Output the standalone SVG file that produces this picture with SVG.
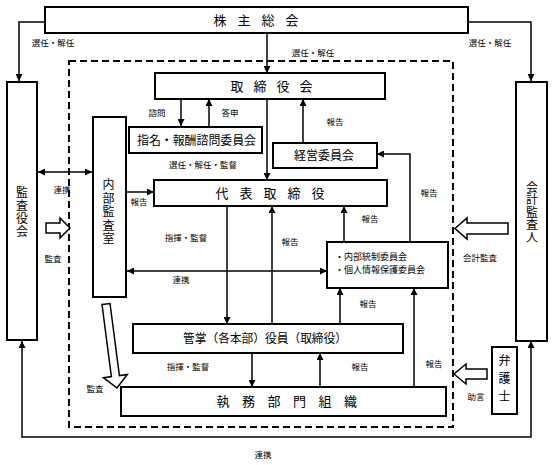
<svg xmlns="http://www.w3.org/2000/svg" width="553" height="465" viewBox="0 0 553 465">
<style>
.box{fill:#fff;stroke:#000;stroke-width:2}
.ln{fill:none;stroke:#000;stroke-width:1.5}
.hol{fill:#fff;stroke:#000;stroke-width:1.5;stroke-linejoin:miter}
.dash{fill:none;stroke:#000;stroke-width:2;stroke-dasharray:7 4}
text{font-family:'Noto Sans CJK JP','Noto Sans CJK SC',sans-serif;fill:#000}
.ttl{font-size:13px;text-anchor:middle}
.nm{font-size:12px;text-anchor:middle}
.vt{font-size:12px;text-anchor:middle;writing-mode:vertical-rl}
.lbl{font-size:8.5px;text-anchor:middle}
.sm{font-size:9px}
</style>
<defs>
<marker id="ah" viewBox="0 0 10 10" refX="10" refY="5" markerWidth="7" markerHeight="7" markerUnits="userSpaceOnUse" orient="auto-start-reverse"><path d="M0,0 L10,5 L0,10 z" fill="#000"/></marker>
</defs>
<rect width="553" height="465" fill="#fff"/>
<rect class="dash" x="69" y="61" width="384" height="366"/>

<g id="connectors">
<path class="ln" d="M45,22 H19 V81" marker-end="url(#ah)"/>
<path class="ln" d="M468,22 H531 V81" marker-end="url(#ah)"/>
<path class="ln" d="M267,33 V73" marker-end="url(#ah)"/>
<path class="ln" d="M267,99 V180" marker-end="url(#ah)"/>
<path class="ln" d="M181,99 V126" marker-end="url(#ah)"/>
<path class="ln" d="M209,127 V99" marker-end="url(#ah)"/>
<path class="ln" d="M303,143 V99" marker-end="url(#ah)"/>
<path class="ln" d="M410,242 V154 H377" marker-end="url(#ah)"/>
<path class="ln" d="M344,242 V206" marker-end="url(#ah)"/>
<path class="ln" d="M126,192 H154" marker-end="url(#ah)"/>
<path class="ln" d="M127,271 H327" marker-start="url(#ah)" marker-end="url(#ah)"/>
<path class="ln" d="M38,172 H92" marker-start="url(#ah)" marker-end="url(#ah)"/>
<path class="ln" d="M227,206 V324" marker-end="url(#ah)"/>
<path class="ln" d="M272,324 V206" marker-end="url(#ah)"/>
<path class="ln" d="M340,324 V288" marker-end="url(#ah)"/>
<path class="ln" d="M414,387 V288" marker-end="url(#ah)"/>
<path class="ln" d="M320,387 V353" marker-end="url(#ah)"/>
<path class="ln" d="M252,353 V387" marker-end="url(#ah)"/>
<path class="ln" d="M22,341 V437 H531 V341" marker-start="url(#ah)" marker-end="url(#ah)"/>
<polygon class="hol" points="46,223 60,223 60,218 70,228 60,238 60,233 46,233"/>
<polygon class="hol" points="508,223 467,223 467,218 455,228.5 467,239 467,234 508,234"/>
<polygon class="hol" points="487,369 466,369 466,364 454,374 466,384 466,379 487,379"/>
<polygon class="hol" points="102,304.5 110,303.5 119.4,375.6 127.3,374.5 117,388 103.5,377.7 111.4,376.6"/>
</g>

<g id="labels">
<text class="lbl" x="53" y="46">選任・解任</text>
<text class="lbl" x="490" y="46">選任・解任</text>
<text class="lbl" x="313" y="56">選任・解任</text>
<text class="lbl" x="157" y="116">諮問</text>
<text class="lbl" x="230" y="116">答申</text>
<text class="lbl" x="335" y="125">報告</text>
<text class="lbl" x="203" y="168">選任・解任・監督</text>
<text class="lbl" x="139" y="205">報告</text>
<text class="lbl" x="429" y="196">報告</text>
<text class="lbl" x="62" y="193">連携</text>
<text class="lbl" x="53" y="262">監査</text>
<text class="lbl" x="186" y="241">指揮・監督</text>
<text class="lbl" x="290" y="245">報告</text>
<text class="lbl" x="370" y="222">報告</text>
<text class="lbl" x="181" y="283">連携</text>
<text class="lbl" x="480" y="261">会計監査</text>
<text class="lbl" x="368" y="307">報告</text>
<text class="lbl" x="434" y="367">報告</text>
<text class="lbl" x="188" y="370">指揮・監督</text>
<text class="lbl" x="360" y="370">報告</text>
<text class="lbl" x="95" y="392">監査</text>
<text class="lbl" x="476" y="400">助言</text>
<text class="lbl" x="263" y="458">連携</text>
</g>

<g id="shareholders">
<rect class="box" x="45" y="7" width="423" height="26"/>
<text class="ttl" x="220 244 268 292" y="24.5">株主総会</text>
</g>
<g id="kansayakukai">
<rect class="box" x="7" y="82" width="30" height="258"/>
<text class="vt" x="22" y="212" letter-spacing="1">監査役会</text>
</g>
<g id="kaikeikansanin">
<rect class="box" x="516" y="82" width="31" height="259"/>
<text class="vt" x="532" y="212.5" letter-spacing="0.5">会計監査人</text>
</g>
<g id="torishimariyakukai">
<rect class="box" x="155" y="73" width="230" height="26"/>
<text class="ttl" x="237 260 283 306" y="90.5">取締役会</text>
</g>
<g id="shimei">
<rect class="box" x="129" y="127" width="133" height="26"/>
<text class="nm" x="196.5" y="144.5" textLength="119" lengthAdjust="spacingAndGlyphs">指名・報酬諮問委員会</text>
</g>
<g id="keiei">
<rect class="box" x="273" y="143" width="104" height="25"/>
<text class="nm" x="324" y="160">経営委員会</text>
</g>
<g id="naibukansa">
<rect class="box" x="93" y="117" width="33" height="180"/>
<text class="vt" x="108.5" y="212.5" letter-spacing="1.5">内部監査室</text>
</g>
<g id="daihyo">
<rect class="box" x="154" y="180" width="233" height="26"/>
<text class="ttl" x="222 246 270 294 318" y="197.5">代表取締役</text>
</g>
<g id="naibutosei">
<rect class="box" x="327" y="242" width="121" height="46"/>
<text class="sm" x="335" y="260">・内部統制委員会</text>
<text class="sm" x="335" y="272.5">・個人情報保護委員会</text>
</g>
<g id="kansho">
<rect class="box" x="133" y="324" width="270" height="29"/>
<text class="nm" x="265" y="343" textLength="164" lengthAdjust="spacingAndGlyphs">管掌（各本部）役員（取締役）</text>
</g>
<g id="shitsumu">
<rect class="box" x="121" y="387" width="325" height="29"/>
<text class="ttl" x="223 248.5 274 299.5 325 350.5" y="406">執務部門組織</text>
</g>
<g id="bengoshi">
<rect class="box" x="492" y="347" width="25" height="67"/>
<text class="vt" x="504.5" y="381" letter-spacing="6">弁護士</text>
</g>
</svg>
